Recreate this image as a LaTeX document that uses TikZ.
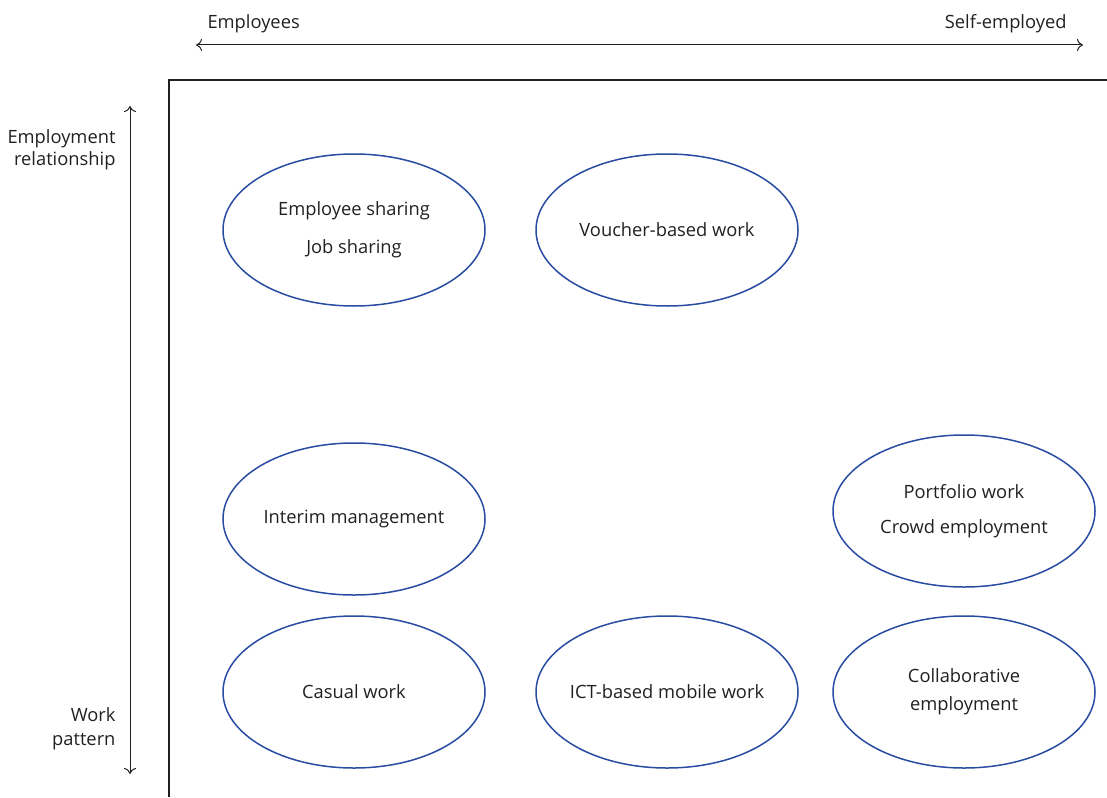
\documentclass[tikz,border=0pt]{standalone}
\usepackage{fontspec}
\setmainfont{Open Sans}
\usetikzlibrary{shapes.geometric, arrows.meta}
\definecolor{ovalblue}{RGB}{40,76,162}
\definecolor{inkgrey}{RGB}{35,31,32}
\begin{document}
\begin{tikzpicture}[x=1pt, y=-1pt, >={To[length=6pt, width=12pt]},
  every node/.style={text=inkgrey, font=\fontsize{18.3}{28}\selectfont},
  oval/.style={draw=ovalblue, line width=1.5pt, ellipse, minimum width=262pt, minimum height=152pt, align=center, inner xsep=-30pt, inner ysep=0pt}]
\useasboundingbox (0,0) rectangle (1107,797);

% axis labels
\node[anchor=west] (emp) at (204,24) {Employees};
\node[anchor=east] (self) at (1070,24) {Self-employed};
\node[anchor=east, align=right, font=\fontsize{18.3}{22}\selectfont] (rel) at (119,150) {Employment\\relationship};
\node[anchor=east, align=right, font=\fontsize{18.3}{24}\selectfont] (pat) at (119,729) {Work\\pattern};

\coordinate (left) at (196,45);
\coordinate (right) at (1083,45);
\coordinate (top) at (130,106);
\coordinate (bottom) at (130,774);
\draw[<->, draw=inkgrey, line width=1pt] (left) -- (right);
\draw[<->, draw=inkgrey, line width=1pt] (top) -- (bottom);

% frame
\coordinate (corner) at (169,80);
\draw[draw=inkgrey, line width=2.4pt] (1107,80) -- (corner) -- (169,797);

% forms of employment
\node[oval] (share) at (354,230) {Employee sharing\\[10pt]Job sharing};
\node[oval] (voucher) at (667,230) {Voucher-based work};
\node[oval] (interim) at (354,519) {Interim management};
\node[oval] (portfolio) at (964,511) {Portfolio work\\[7pt]Crowd employment};
\node[oval] (casual) at (354,692) {Casual work};
\node[oval] (ict) at (667,692) {ICT-based mobile work};
\node[oval] (collab) at (964,692) {Collaborative\\employment};
\end{tikzpicture}
\end{document}
